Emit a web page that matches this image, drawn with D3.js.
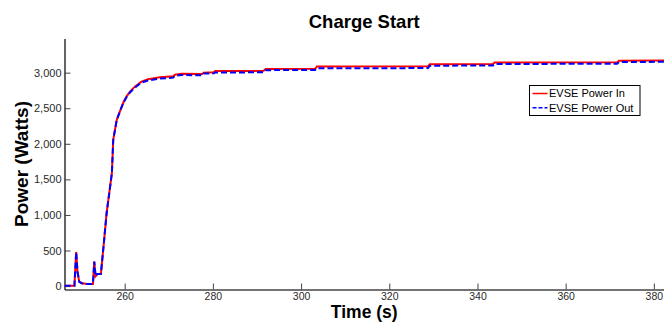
<!DOCTYPE html>
<html>
<head>
<meta charset="utf-8">
<script src="https://cdn.jsdelivr.net/npm/d3@7"></script>
<style>
  body { margin: 0; background: #fff; }
  svg { display: block; font-family: "Liberation Sans", Arial, sans-serif; }
</style>
</head>
<body>
<div id="chart"></div>
<script>
// readings (seconds, watts)
const timeIn = [246.4, 248.6, 249.0, 249.3, 249.7, 250.3, 251.5, 252.8, 253.1, 253.4, 253.8, 254.6,
  255.2, 255.9, 256.7, 257.1, 257.4, 258.2, 258.9, 259.7, 260.4, 261.2, 262.3, 263.8, 265.3,
  268.0, 271.0, 271.4, 272.9, 277.6, 277.9, 280.2, 280.5, 291.5, 292.0, 303.2, 303.6,
  328.8, 329.2, 343.5, 343.9, 371.7, 372.1, 382.5];
const powerIn = [5, 5, 480, 200, 60, 40, 30, 30, 345, 140, 170, 170,
  556, 1025, 1400, 1590, 2055, 2336, 2452, 2580, 2663, 2733, 2803, 2874, 2907,
  2935, 2950, 2972, 2986, 2980, 3000, 3005, 3022, 3025, 3050, 3055, 3088,
  3090, 3118, 3122, 3142, 3145, 3168, 3170];

const timeOut = [246.4, 248.6, 249.0, 249.3, 249.7, 250.3, 251.5, 252.8, 253.1, 253.4, 253.8, 254.6,
  255.2, 255.9, 256.7, 257.1, 257.4, 258.2, 258.9, 259.7, 260.4, 261.2, 262.3, 263.8, 265.3,
  268.0, 270.0, 271.0, 271.4, 272.9, 277.6, 277.9, 280.2, 280.5, 291.5, 292.0, 303.2, 303.6,
  328.8, 329.2, 343.5, 343.9, 371.7, 372.1, 382.5];
const powerOut = [5, 5, 480, 200, 60, 40, 30, 30, 345, 140, 170, 170,
  556, 1025, 1400, 1590, 2055, 2336, 2452, 2575, 2655, 2722, 2790, 2860, 2890,
  2918, 2925, 2930, 2955, 2967, 2962, 2988, 2990, 3002, 3005, 3035, 3038, 3062,
  3064, 3098, 3100, 3122, 3125, 3150, 3152];

const yTicks = [0, 500, 1000, 1500, 2000, 2500, 3000];
const xTicks = [260, 280, 300, 320, 340, 360, 380];
const seriesNames = ['EVSE Power In', 'EVSE Power Out'];

const width = 664;
const height = 322;
const margin = { top: 38.5, right: 0, bottom: 32.5, left: 64.5 };

const x = d3.scaleLinear()
  .domain([246.35, 382.3])
  .range([margin.left, width - margin.right]);
const y = d3.scaleLinear()
  .domain([-48, 3480])
  .range([height - margin.bottom, margin.top]);

const svg = d3.select('#chart').append('svg')
  .attr('width', width)
  .attr('height', height);

// axes
const xAxis = g => g.attr('transform', `translate(0,${height - margin.bottom})`)
  .call(d3.axisBottom(x).tickValues(xTicks).tickSize(-6).tickPadding(3).tickSizeOuter(0))
  .call(g => g.select('.domain').attr('stroke', '#444').attr('stroke-width', 1.3))
  .call(g => g.selectAll('.tick line').attr('stroke', '#444'))
  .call(g => g.selectAll('.tick text').attr('fill', '#2a2a2a').attr('font-size', 10.5));

const yAxis = g => g.attr('transform', `translate(${margin.left},0)`)
  .call(d3.axisLeft(y).tickValues(yTicks).tickFormat(d3.format(',')).tickSize(-6).tickPadding(3).tickSizeOuter(0))
  .call(g => g.select('.domain').attr('stroke', '#111').attr('stroke-width', 1.3))
  .call(g => g.selectAll('.tick line').attr('stroke', '#444'))
  .call(g => g.selectAll('.tick text').attr('fill', '#2a2a2a').attr('font-size', 11));

svg.append('g').call(xAxis);
svg.append('g').call(yAxis);

// lines
const line = d3.line()
  .x(d => x(d[0]))
  .y(d => y(d[1]));

const inData = d3.zip(timeIn, powerIn);
const outData = d3.zip(timeOut, powerOut);

svg.append('path')
  .datum(inData)
  .attr('fill', 'none')
  .attr('stroke', '#ff0000')
  .attr('stroke-width', 2)
  .attr('d', line);

svg.append('path')
  .datum(outData)
  .attr('fill', 'none')
  .attr('stroke', '#0000ff')
  .attr('stroke-width', 2)
  .attr('stroke-dasharray', '6,3')
  .attr('d', line);

// titles
svg.append('text')
  .attr('x', (margin.left + width - margin.right) / 2)
  .attr('y', 28)
  .attr('text-anchor', 'middle')
  .attr('font-weight', 'bold')
  .attr('font-size', 18.5)
  .text('Charge Start');

svg.append('text')
  .attr('x', (margin.left + width - margin.right) / 2)
  .attr('y', 317.5)
  .attr('text-anchor', 'middle')
  .attr('font-weight', 'bold')
  .attr('font-size', 17.5)
  .text('Time (s)');

svg.append('text')
  .attr('transform', `translate(27.5,${(margin.top + height - margin.bottom) / 2}) rotate(-90)`)
  .attr('text-anchor', 'middle')
  .attr('font-weight', 'bold')
  .attr('font-size', 19)
  .text('Power (Watts)');

// legend
const legend = svg.append('g').attr('transform', 'translate(529.5,85.5)');
legend.append('rect')
  .attr('width', 110.5)
  .attr('height', 30)
  .attr('fill', '#fff')
  .attr('stroke', '#000')
  .attr('stroke-width', 1);

const legendStyles = [
  { color: '#ff0000', dash: null },
  { color: '#0000ff', dash: '4,2' }
];
seriesNames.forEach((name, i) => {
  const row = legend.append('g').attr('transform', `translate(0,${8 + i * 14.3})`);
  row.append('line')
    .attr('x1', 3).attr('x2', 18)
    .attr('stroke', legendStyles[i].color)
    .attr('stroke-width', 1.5)
    .attr('stroke-dasharray', legendStyles[i].dash);
  row.append('text')
    .attr('x', 19.5)
    .attr('dy', '0.35em')
    .attr('font-size', 11)
    .attr('fill', '#000')
    .text(name);
});
</script>
</body>
</html>
